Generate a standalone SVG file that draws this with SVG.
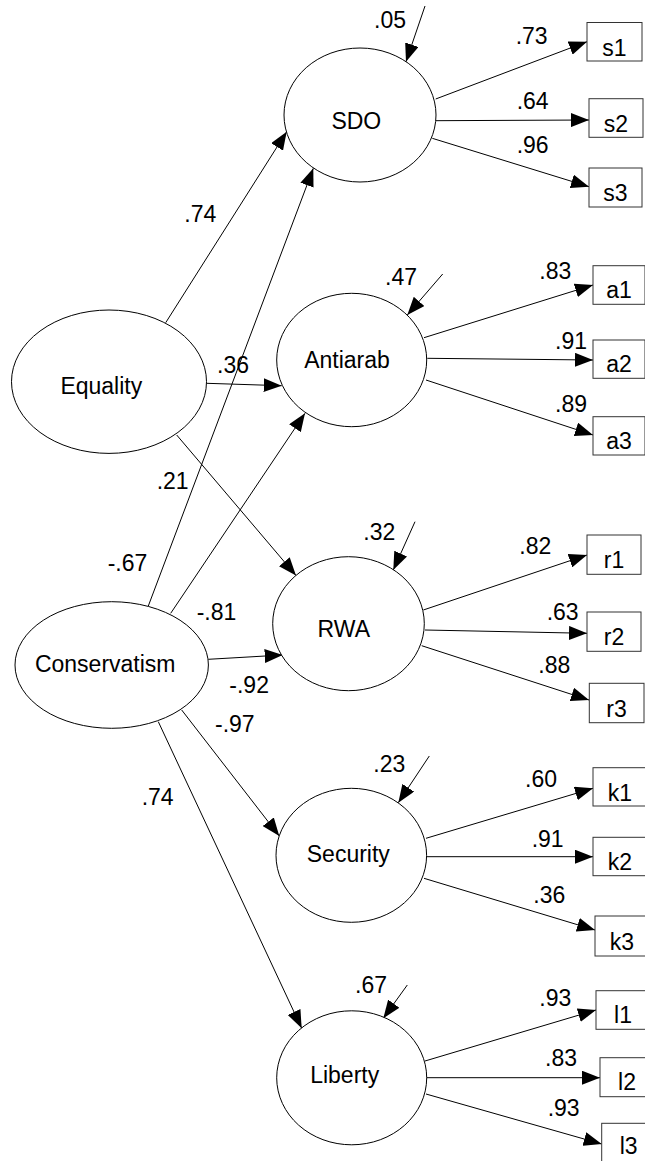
<svg xmlns="http://www.w3.org/2000/svg" width="645" height="1161" viewBox="0 0 645 1161">
<defs>
<marker id="ah" markerUnits="userSpaceOnUse" markerWidth="18" markerHeight="14" refX="18" refY="7" orient="auto">
<path d="M0,0 L18,7 L0,14 z" fill="#000"/>
</marker>
<style>
.lat{fill:#fff;stroke:#000;stroke-width:1}
.obs{fill:#fff;stroke:#333;stroke-width:1}
text{font-family:"Liberation Sans",Arial,sans-serif;font-size:23px;fill:#000}
.c{text-anchor:middle}
.e{stroke:#000;stroke-width:1;fill:none;marker-end:url(#ah)}
</style>
</defs>
<rect width="645" height="1161" fill="#fff"/>

<g id="connectors">
<line class="e" x1="165.7" y1="322.7" x2="286.7" y2="131.7"/>
<line class="e" x1="148.3" y1="606" x2="313.3" y2="168.3"/>
<line class="e" x1="206.7" y1="383.3" x2="281.7" y2="385.7"/>
<line class="e" x1="170.7" y1="613.3" x2="305" y2="413.3"/>
<line class="e" x1="176.7" y1="435" x2="296" y2="575.5"/>
<line class="e" x1="208.3" y1="659.3" x2="282.7" y2="655"/>
<line class="e" x1="181.7" y1="710" x2="279.3" y2="836"/>
<line class="e" x1="158.3" y1="721.7" x2="301.7" y2="1028.3"/>
<line class="e" x1="425" y1="6" x2="406" y2="61.7"/>
<line class="e" x1="442.7" y1="274" x2="407.3" y2="315"/>
<line class="e" x1="415" y1="521.7" x2="393.3" y2="570"/>
<line class="e" x1="429.3" y1="756" x2="398.3" y2="802.7"/>
<line class="e" x1="407.3" y1="985" x2="383.3" y2="1018.3"/>
<line class="e" x1="435.7" y1="99" x2="587" y2="41.7"/>
<line class="e" x1="435.7" y1="120.7" x2="589" y2="120"/>
<line class="e" x1="432.3" y1="138.3" x2="589" y2="186.7"/>
<line class="e" x1="424" y1="337.7" x2="593" y2="285"/>
<line class="e" x1="427.3" y1="358.3" x2="593" y2="360"/>
<line class="e" x1="426" y1="380" x2="593" y2="435"/>
<line class="e" x1="423.3" y1="610" x2="587" y2="555"/>
<line class="e" x1="425" y1="630" x2="587" y2="633.3"/>
<line class="e" x1="421.7" y1="645.7" x2="589" y2="700"/>
<line class="e" x1="426" y1="838.3" x2="593" y2="788.3"/>
<line class="e" x1="426.7" y1="856.7" x2="593" y2="856.7"/>
<line class="e" x1="424" y1="878.3" x2="595" y2="930"/>
<line class="e" x1="425" y1="1061" x2="596" y2="1010"/>
<line class="e" x1="426.7" y1="1077.7" x2="600" y2="1077.7"/>
<line class="e" x1="426" y1="1094" x2="601.7" y2="1144"/>
</g>

<g id="labels">
<text x="374" y="28">.05</text>
<text x="515.7" y="44.3">.73</text>
<text x="516.7" y="109">.64</text>
<text x="516.7" y="153.3">.96</text>
<text x="184.3" y="221.7">.74</text>
<text x="217" y="372.7">.36</text>
<text x="385" y="285">.47</text>
<text x="539.3" y="279.3">.83</text>
<text x="555" y="349">.91</text>
<text x="555" y="411.7">.89</text>
<text x="156.7" y="489">.21</text>
<text x="107.7" y="570.7">-.67</text>
<text x="196.7" y="620">-.81</text>
<text x="229.3" y="692.7">-.92</text>
<text x="215" y="732">-.97</text>
<text x="141.7" y="805">.74</text>
<text x="363.3" y="540">.32</text>
<text x="519.3" y="554">.82</text>
<text x="546.7" y="620">.63</text>
<text x="538.3" y="673.3">.88</text>
<text x="373.3" y="772.3">.23</text>
<text x="525" y="787.3">.60</text>
<text x="531.7" y="846.7">.91</text>
<text x="533.3" y="902.7">.36</text>
<text x="355" y="993.3">.67</text>
<text x="539.3" y="1006">.93</text>
<text x="545" y="1066">.83</text>
<text x="547.7" y="1116">.93</text>
</g>

<g id="SDO"><ellipse class="lat" cx="360" cy="115" rx="76" ry="67"/><text class="c" x="356.3" y="129">SDO</text></g>
<g id="Antiarab"><ellipse class="lat" cx="351.7" cy="360" rx="75" ry="66.7"/><text class="c" x="347" y="368">Antiarab</text></g>
<g id="Equality"><ellipse class="lat" cx="109" cy="381.7" rx="97.5" ry="71.7"/><text class="c" x="101.3" y="394">Equality</text></g>
<g id="Conservatism"><ellipse class="lat" cx="111.7" cy="665" rx="96.7" ry="63.3"/><text class="c" x="105.2" y="672">Conservatism</text></g>
<g id="RWA"><ellipse class="lat" cx="348.5" cy="623.7" rx="75.8" ry="67"/><text class="c" x="343.8" y="637">RWA</text></g>
<g id="Security"><ellipse class="lat" cx="351.3" cy="855.3" rx="75.3" ry="67"/><text class="c" x="348.3" y="862">Security</text></g>
<g id="Liberty"><ellipse class="lat" cx="351.7" cy="1077.8" rx="75" ry="67"/><text class="c" x="344.7" y="1083">Liberty</text></g>

<g id="s1"><rect class="obs" x="587" y="22.5" width="55" height="38.5"/><text class="c" x="614.5" y="55.5">s1</text></g>
<g id="s2"><rect class="obs" x="589" y="98.7" width="54" height="38.6"/><text class="c" x="616" y="131.5">s2</text></g>
<g id="s3"><rect class="obs" x="589" y="168" width="53" height="39"/><text class="c" x="615.5" y="201">s3</text></g>
<g id="a1"><rect class="obs" x="593" y="265.7" width="52" height="38.6"/><text class="c" x="619" y="298.3">a1</text></g>
<g id="a2"><rect class="obs" x="593" y="340" width="52" height="38.3"/><text class="c" x="619" y="372.3">a2</text></g>
<g id="a3"><rect class="obs" x="593" y="416.7" width="52" height="38.3"/><text class="c" x="619" y="449">a3</text></g>
<g id="r1"><rect class="obs" x="587" y="535" width="54" height="39.3"/><text class="c" x="614" y="568.3">r1</text></g>
<g id="r2"><rect class="obs" x="587" y="612" width="54" height="39.3"/><text class="c" x="614" y="645">r2</text></g>
<g id="r3"><rect class="obs" x="589.3" y="683.3" width="54.7" height="39.4"/><text class="c" x="616.6" y="716.7">r3</text></g>
<g id="k1"><rect class="obs" x="593" y="767.7" width="54" height="38.3"/><text class="c" x="620" y="800.5">k1</text></g>
<g id="k2"><rect class="obs" x="593" y="837.3" width="54" height="38.4"/><text class="c" x="620" y="869.5">k2</text></g>
<g id="k3"><rect class="obs" x="595" y="916" width="54" height="40"/><text class="c" x="622" y="950">k3</text></g>
<g id="l1"><rect class="obs" x="596" y="990.7" width="54" height="38.6"/><text class="c" x="623" y="1023.3">l1</text></g>
<g id="l2"><rect class="obs" x="600" y="1057.7" width="54" height="39"/><text class="c" x="627" y="1090">l2</text></g>
<g id="l3"><rect class="obs" x="601.7" y="1123.3" width="54" height="39"/><text class="c" x="628.7" y="1154">l3</text></g>
</svg>
